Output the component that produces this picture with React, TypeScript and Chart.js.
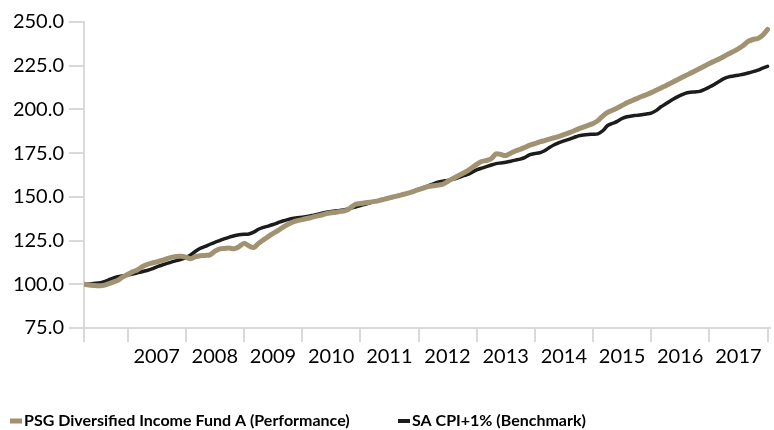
import React, { useEffect, useRef } from 'react';
import { Chart, registerables } from 'chart.js';

Chart.register(...registerables);

// Monthly series, April 2006 (index 0) to January 2018 (index 141)
const performance: number[] = [
  100.0, 99.6, 99.3, 99.1, 99.4, 100.3, 101.2, 102.3, 104.2,
  105.6, 107.1, 108.2, 110.0, 111.3, 112.1, 112.8, 113.6, 114.5, 115.4, 115.9, 116.0,
  115.5, 114.6, 115.8, 116.3, 116.5, 116.8, 118.9, 120.3, 120.5, 120.7, 120.3, 121.5,
  123.4, 122.0, 121.0, 123.4, 125.4, 127.3, 129.1, 130.7, 132.6, 134.2, 135.5, 136.4,
  137.0, 137.6, 138.3, 139.0, 139.6, 140.4, 140.9, 141.2, 141.7, 142.2, 143.8, 145.8,
  146.2, 146.6, 147.0, 147.4, 148.0, 148.7, 149.4, 150.1, 150.8, 151.5, 152.3, 153.2,
  154.1, 155.0, 155.9, 156.4, 156.7, 157.2, 158.8, 160.3, 161.8, 163.2, 164.7, 166.6,
  168.6, 170.2, 170.8, 171.8, 174.6, 174.2, 173.6, 175.0, 176.2, 177.2, 178.4, 179.6,
  180.5, 181.4, 182.2, 183.0, 183.8, 184.6, 185.6, 186.6, 187.7, 188.9, 189.9, 190.9,
  192.0, 193.6, 196.2, 198.3, 199.5, 200.8, 202.3, 203.8, 205.0, 206.2, 207.4, 208.4,
  209.6, 210.9, 212.3, 213.6, 215.0, 216.4, 217.8, 219.2, 220.6, 222.0, 223.4, 224.8,
  226.3, 227.6, 228.9, 230.3, 231.8, 233.2, 234.8, 236.6, 238.9, 240.0, 240.6, 242.5,
  245.8,
];

const benchmark: number[] = [
  100.0, 100.2, 100.5, 100.7, 101.4, 102.4, 103.5, 104.4, 104.9,
  105.3, 105.8, 106.5, 107.2, 107.9, 108.8, 110.0, 110.9, 111.8, 112.7, 113.5, 114.3,
  115.3, 116.8, 118.9, 120.6, 121.7, 122.9, 124.0, 125.0, 126.1, 127.0, 127.8, 128.3,
  128.6, 128.8, 129.8, 131.5, 132.5, 133.3, 134.2, 135.2, 136.2, 137.0, 137.6, 138.0,
  138.4, 138.8, 139.3, 140.0, 140.6, 141.2, 141.6, 142.0, 142.3, 142.8, 143.5, 144.2,
  145.0, 145.8, 146.6, 147.4, 148.0, 148.7, 149.4, 150.1, 150.8, 151.5, 152.3, 153.2,
  154.3, 155.3, 156.3, 157.4, 158.4, 159.0, 159.4, 160.0, 160.8, 161.8, 162.7, 164.0,
  165.4, 166.4, 167.3, 168.2, 169.0, 169.4, 169.8, 170.4, 171.0, 171.6, 172.6, 174.2,
  174.8, 175.2, 176.4, 178.2, 179.8, 181.0, 182.0, 182.9, 183.9, 184.9, 185.4, 185.7,
  185.8, 186.0, 187.8, 190.8, 192.0, 193.2, 194.8, 195.8, 196.3, 196.6, 197.0, 197.4,
  197.9, 199.3, 201.5, 203.2, 205.0, 206.6, 208.0, 209.2, 209.8, 210.0, 210.3, 211.4,
  212.8, 214.3, 216.0, 217.6, 218.6, 219.1, 219.6, 220.1, 220.8, 221.6, 222.5, 223.6,
  224.6,
];

const seriesNames = ['PSG Diversified Income Fund A (Performance)', 'SA CPI+1% (Benchmark)'];
const yearLabels = ['2007', '2008', '2009', '2010', '2011', '2012', '2013', '2014', '2015', '2016', '2017'];
const firstYearStartIndex = 9; // January 2007 in the monthly index
const yTicks = [75, 100, 125, 150, 175, 200, 225, 250];

const TAN = '#a19372';
const DARK = '#1c1c1c';
const FONT = 'Lato, "Open Sans", sans-serif';
const AXIS_GREY = '#d9d9d9';

const legendPlugin = {
  id: 'bottomLegend',
  afterDraw(chart: any) {
    const ctx = chart.ctx;
    const items = [
      { x: 10, color: TAN, h: 5 },
      { x: 398, color: DARK, h: 4 },
    ];
    const cy = 421;
    ctx.save();
    ctx.font = `bold 16px ${FONT}`;
    ctx.textBaseline = 'middle';
    ctx.fillStyle = '#000';
    chart.data.datasets.forEach((ds: any, i: number) => {
      const it = items[i];
      ctx.fillStyle = it.color;
      ctx.fillRect(it.x, cy - it.h / 2, 12, it.h);
      ctx.fillStyle = '#000';
      ctx.fillText(ds.label, it.x + 14, cy);
    });
    ctx.restore();
  },
};

export default function App() {
  const canvasRef = useRef<HTMLCanvasElement | null>(null);

  useEffect(() => {
    if (!canvasRef.current) return;
    const toPoints = (arr: number[]) => arr.map((v, i) => ({ x: i, y: v }));
    const lastIndex = performance.length - 1;
    const boundaries = [0, ...yearLabels.map((_, k) => firstYearStartIndex + 12 * k), firstYearStartIndex + 12 * yearLabels.length];

    const chart = new Chart(canvasRef.current, {
      type: 'line',
      data: {
        datasets: [
          {
            label: seriesNames[0],
            data: toPoints(performance),
            borderColor: TAN,
            backgroundColor: TAN,
            borderWidth: 5,
            pointRadius: 0,
            tension: 0.3,
            borderJoinStyle: 'round',
            borderCapStyle: 'round',
          },
          {
            label: seriesNames[1],
            data: toPoints(benchmark),
            borderColor: DARK,
            backgroundColor: DARK,
            borderWidth: 3.5,
            pointRadius: 0,
            tension: 0.3,
            borderJoinStyle: 'round',
            borderCapStyle: 'round',
          },
        ],
      },
      options: {
        animation: false,
        responsive: true,
        maintainAspectRatio: false,
        layout: { padding: { top: 22, right: 4, left: 0, bottom: 0 } },
        plugins: {
          legend: { display: false },
          tooltip: { enabled: false },
        },
        scales: {
          x: {
            type: 'linear',
            min: 0,
            max: lastIndex + 0.5,
            afterFit: (scale: any) => {
              scale.height = 102;
            },
            afterBuildTicks: (scale: any) => {
              scale.ticks = boundaries.map((v) => ({ value: v }));
            },
            grid: {
              display: true,
              drawOnChartArea: false,
              drawTicks: true,
              tickLength: 14,
              color: AXIS_GREY,
              lineWidth: 2,
            },
            border: { display: true, color: AXIS_GREY, width: 2 },
            ticks: {
              autoSkip: false,
              maxRotation: 0,
              minRotation: 0,
              padding: 3,
              labelOffset: 29,
              color: '#000',
              font: { family: FONT, size: 20 },
              callback: (value: any) => {
                const k = (Number(value) - firstYearStartIndex) / 12;
                if (Number.isInteger(k) && k >= 0 && k < yearLabels.length) return yearLabels[k];
                return '';
              },
            },
          },
          y: {
            type: 'linear',
            min: 75,
            max: 250,
            afterFit: (scale: any) => {
              scale.width = 84;
            },
            afterBuildTicks: (scale: any) => {
              scale.ticks = yTicks.map((v) => ({ value: v }));
            },
            grid: {
              display: true,
              drawOnChartArea: false,
              drawTicks: true,
              tickLength: 15,
              color: AXIS_GREY,
              lineWidth: 2,
            },
            border: { display: true, color: AXIS_GREY, width: 2 },
            ticks: {
              padding: 5,
              color: '#000',
              font: { family: FONT, size: 20 },
              callback: (value: any) => Number(value).toFixed(1),
            },
          },
        },
      },
      plugins: [legendPlugin],
    });
    return () => chart.destroy();
  }, []);

  return (
    <div style={{ position: 'fixed', left: 0, top: 0, width: 774, height: 430, background: '#fff' }}>
      <canvas ref={canvasRef} />
    </div>
  );
}
